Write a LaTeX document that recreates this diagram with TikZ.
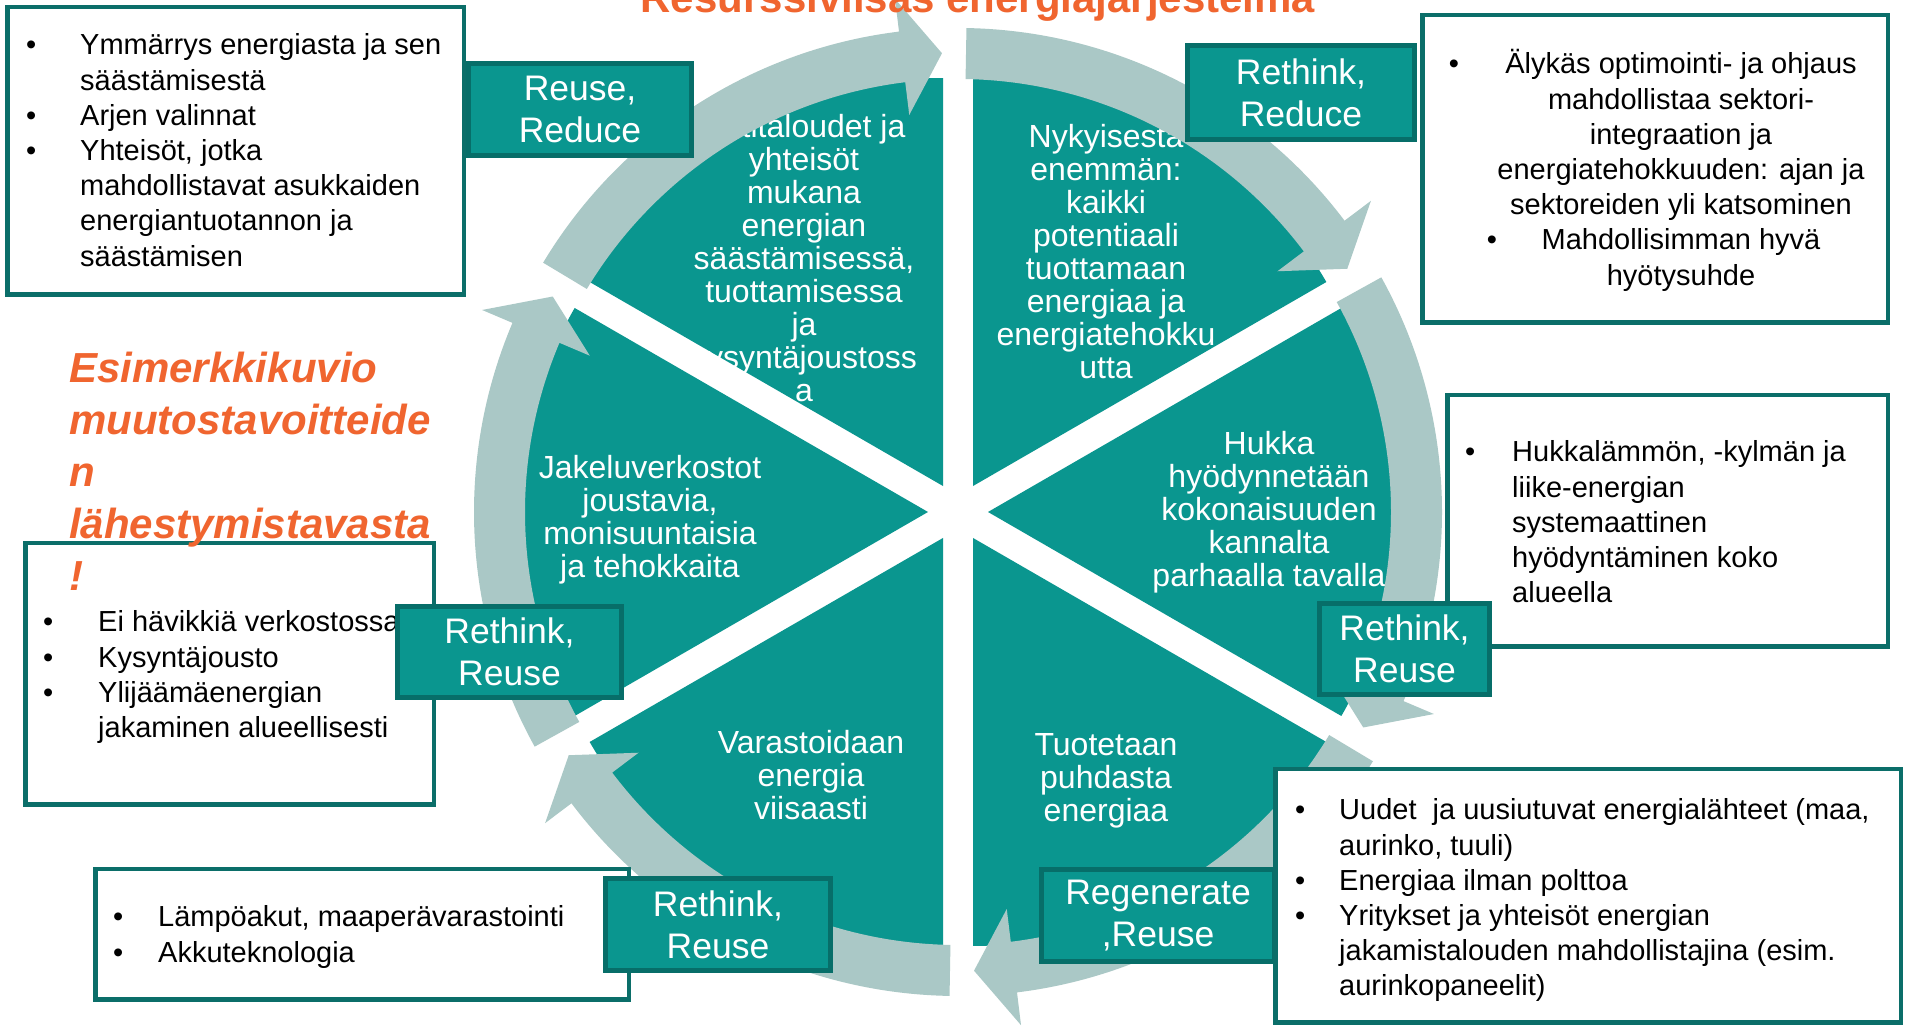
\documentclass[tikz,border=0pt]{standalone}
\usepackage{fontspec}
\setmainfont{Liberation Sans}
\definecolor{teal1}{HTML}{0A968F}
\definecolor{tealdark}{HTML}{076E69}
\definecolor{boxline}{HTML}{0B6E69}
\definecolor{arrowc}{HTML}{AAC8C6}
\definecolor{orng}{HTML}{F0652F}
\newcommand\wlines[1]{\parbox[t]{360pt}{\centering\fontsize{32}{33}\selectfont\lineskiplimit=-100pt\relax #1}}
\newcommand\blines[1]{\parbox[t]{620pt}{\raggedright\fontsize{29}{35.2}\selectfont\lineskiplimit=-100pt\relax #1}}
\newcommand\cblines[1]{\parbox[t]{520pt}{\centering\fontsize{29}{35.2}\selectfont\lineskiplimit=-100pt\relax #1}}
\newcommand\bul[1]{\leavevmode\llap{\makebox[#1][l]{•}}}
\newcommand\cyarrow[3]{\fill[arr] (#1:484) arc[start angle=#1, end angle=#2, radius=484] -- (#2:517) -- (#3:459) -- (#2:400) -- (#2:433) arc[start angle=#2, end angle=#1, radius=433] -- cycle;}
\begin{document}
\begin{tikzpicture}[x=1pt,y=1pt,
  px/.style={shift={(0,1027)}, yscale=-1},
  ctr/.style={shift={(958,515)}},
  wedge/.style={fill=teal1},
  arr/.style={fill=arrowc},
  wtext/.style={anchor=base, inner sep=0pt, text=white},
  btext/.style={anchor=base west, inner sep=0pt, text=black},
  bdot/.style={anchor=base, inner sep=0pt, font=\fontsize{29}{35}\selectfont},
  tbox/.style={draw=boxline, line width=4.5pt, fill=white, inner sep=0pt},
  lbox/.style={draw=tealdark, line width=5pt, fill=teal1, text=white, align=center, inner sep=0pt, font=\fontsize{35.5}{42}\selectfont},
]
\useasboundingbox (0,0) rectangle (1905,1027);
\fill[white] (0,0) rectangle (1905,1027);

% wedges
\begin{scope}[ctr]
\foreach \p in {0,60,...,300} {
  \fill[wedge] (\p:30) -- ++({\p-30}:408) arc[start angle={\p-30}, end angle={\p+30}, radius=408] -- cycle;
}
\end{scope}

% wedge texts
\begin{scope}[px]
\node[wtext] (tlw) at (804,138) {\wlines{Kotitaloudet ja\\yhteisöt\\mukana\\energian\\säästämisessä,\\tuottamisessa\\ja\\kysyntäjoustoss\\a}};
\node[wtext] (trw) at (1106,148) {\wlines{Nykyisestä\\enemmän:\\kaikki\\potentiaali\\tuottamaan\\energiaa ja\\energiatehokku\\utta}};
\node[wtext] (rw) at (1269,455) {\wlines{Hukka\\hyödynnetään\\kokonaisuuden\\kannalta\\parhaalla tavalla}};
\node[wtext] (brw) at (1106,756) {\wlines{Tuotetaan\\puhdasta\\energiaa}};
\node[wtext] (blw) at (811,754) {\wlines{Varastoidaan\\energia\\viisaasti}};
\node[wtext] (lw) at (650,479) {\wlines{Jakeluverkostot\\joustavia,\\monisuuntaisia\\ja tehokkaita}};
\end{scope}

% cycle arrows
\begin{scope}[ctr]
\cyarrow{149}{97}{92}
\cyarrow{89}{37}{32}
\cyarrow{29}{-23}{-28}
\cyarrow{-31}{-83}{-88}
\cyarrow{-91}{-143}{-148}
\cyarrow{-151}{-203}{-208}
\end{scope}

\begin{scope}[px]
% text boxes
\node[tbox, minimum width=456.5, minimum height=287.5] (tlbox) at (235.5,151) {};
\node[btext] (tlt) at (80,55) {\blines{\bul{54pt}Ymmärrys energiasta ja sen\\säästämisestä\\\bul{54pt}Arjen valinnat\\\bul{54pt}Yhteisöt, jotka\\mahdollistavat asukkaiden\\energiantuotannon ja\\säästämisen}};

\node[tbox, minimum width=465.5, minimum height=307.5] (trbox) at (1655,169) {};
\node[anchor=base, inner sep=0pt] (trt) at (1681,74) {\cblines{Älykäs optimointi- ja ohjaus\\mahdollistaa sektori-\\integraation ja\\energiatehokkuuden: ajan ja\\sektoreiden yli katsominen\\Mahdollisimman hyvä\\hyötysuhde}};
\node[bdot] (trb1) at (1454,74) {•};
\node[bdot] (trb2) at (1492,250) {•};

\node[tbox, minimum width=440.5, minimum height=251.5] (rmbox) at (1667.5,521) {};
\node[btext] (rmt) at (1512,462) {\blines{\bul{47pt}Hukkalämmön, -kylmän ja\\liike-energian\\systemaattinen\\hyödyntäminen koko\\alueella}};

\node[tbox, minimum width=533.5, minimum height=130.5] (bbox) at (362,934.5) {};
\node[btext] (bt) at (158,927) {\blines{\bul{45pt}Lämpöakut, maaperävarastointi\\\bul{45pt}Akkuteknologia}};

\node[tbox, minimum width=408.5, minimum height=261.5] (lbox) at (229.5,674) {};
\node[btext] (lt) at (98,632) {\blines{\bul{55pt}Ei hävikkiä verkostossa\\\bul{55pt}Kysyntäjousto\\\bul{55pt}Ylijäämäenergian\\jakaminen alueellisesti}};

% label under the bottom-right box
\node[lbox, minimum width=233, minimum height=92] (l4) at (1158,915.5) {Regenerate\\,Reuse};

\node[tbox, minimum width=625.5, minimum height=253.5] (brbox) at (1588,896) {};
\node[btext] (brt) at (1339,820) {\blines{\bul{44pt}Uudet\ \ ja uusiutuvat energialähteet (maa,\\aurinko, tuuli)\\\bul{44pt}Energiaa ilman polttoa\\\bul{44pt}Yritykset ja yhteisöt energian\\jakamistalouden mahdollistajina (esim.\\aurinkopaneelit)}};

% labels
\node[lbox, minimum width=223, minimum height=92] (l1) at (580,109.5) {Reuse,\\Reduce};
\node[lbox, minimum width=227, minimum height=94] (l2) at (1301,92.5) {Rethink,\\Reduce};
\node[lbox, minimum width=170, minimum height=91] (l3) at (1404.5,649) {Rethink,\\Reuse};
\node[lbox, minimum width=225, minimum height=92] (l5) at (718,924.5) {Rethink,\\Reuse};
\node[lbox, minimum width=224, minimum height=91] (l6) at (509.5,652) {Rethink,\\Reuse};

% orange texts
\node[anchor=base west, inner sep=0pt, text=orng] (ex) at (69,383) {\parbox[t]{400pt}{\raggedright\fontsize{42}{52}\selectfont\bfseries\itshape\lineskiplimit=-100pt\relax Esimerkkikuvio\\muutostavoitteide\\n\\lähestymistavasta\\!}};
\node[anchor=base, inner sep=0pt, text=orng, font=\fontsize{42}{50}\selectfont\bfseries] (title) at (978,13) {Resurssiviisas energiajärjestelmä};
\end{scope}
\end{tikzpicture}
\end{document}
